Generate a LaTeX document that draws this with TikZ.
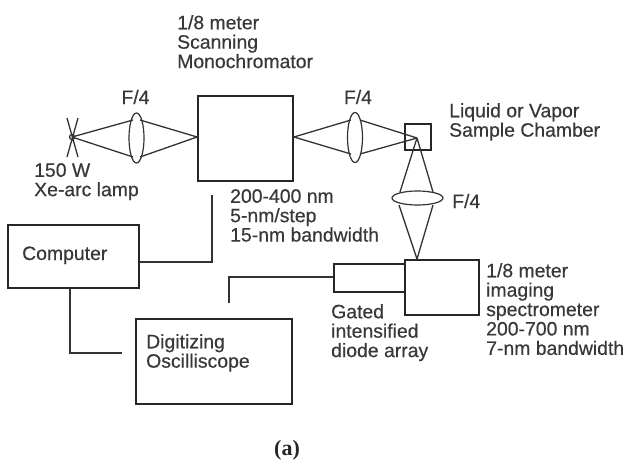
\documentclass[tikz,border=0pt]{standalone}
\usetikzlibrary{shapes.geometric}
\usepackage{fontspec}
\setmainfont{Liberation Sans}
\newfontfamily\labfont[FakeBold=0.35]{Liberation Sans}
\newfontfamily\serifbold{Liberation Serif}
\begin{document}
\begin{tikzpicture}[x=1pt,y=-1pt,
  box/.style={draw=black!85,line width=1.8pt,inner sep=0pt},
  ray/.style={draw=black!80,line width=1.3pt},
  wire/.style={draw=black!80,line width=1.3pt},
  lens/.style={ellipse,draw=black!80,line width=1.2pt,inner sep=0pt},
  lab/.style={text=black!78,font=\labfont\fontsize{19.4}{19.4}\selectfont,align=left,inner sep=0pt}]
\useasboundingbox (0,0) rectangle (629,464);
\fill[white] (0,0) rectangle (629,464);
% boxes
\node[box,minimum width=95pt,minimum height=85pt] (mono) at (245.5,138.5) {};
\node[box,minimum width=26pt,minimum height=26pt] (cell) at (418,137) {};
\node[box,minimum width=74pt,minimum height=55pt] (spec) at (442,287.5) {};
\node[box,minimum width=71pt,minimum height=28pt] (diode) at (369.5,278) {};
\node[box,minimum width=131pt,minimum height=63pt] (comp) at (73.5,256.5) {};
\node[box,minimum width=156pt,minimum height=85pt] (osc) at (214,361.5) {};
% lamp
\coordinate (lampc) at (72,137);
\draw[ray] (67,118) -- (78,157) (78,118) -- (67,157);
\draw[ray] (lampc) circle (2.5);
% lenses
\node[lens,minimum width=15pt,minimum height=50pt] (l1) at (136.5,138) {};
\node[lens,minimum width=15pt,minimum height=50pt] (l2) at (355,137.5) {};
\node[lens,minimum width=51pt,minimum height=14pt] (l3) at (417.5,198) {};
% ray points
\coordinate (focus) at (417,138);
\coordinate (specT) at (417,259);
\draw[ray] (lampc) -- (133,120) (lampc) -- (133,157);
\draw[ray] (mono.west |- lampc) -- (140,120) (mono.west |- lampc) -- (140,157);
\draw[ray] (mono.east |- lampc) -- (351,120) (mono.east |- lampc) -- (351,154);
\draw[ray] (focus) -- (360,120) (focus) -- (360,154);
\draw[ray] (focus) -- (400,192) (focus) -- (433,192);
\draw[ray] (specT) -- (399,205) (specT) -- (433,205);
% wires
\coordinate (w1) at (212,195);
\coordinate (w1b) at (212,262);
\coordinate (w2b) at (70,353);
\coordinate (w2c) at (122,353);
\coordinate (w3a) at (229,303);
\coordinate (w3b) at (229,277);
\draw[wire] (w1) -- (w1b) -- (comp.east |- w1b);
\draw[wire] (comp.south -| w2b) -- (w2b) -- (w2c);
\draw[wire] (w3a) -- (w3b) -- (diode.west |- w3b);
% labels
\node[lab,anchor=north west] (tm) at (177,15) {1/8 meter\\Scanning\\Monochromator};
\node[lab,anchor=base] (f1) at (135.5,104) {F/4};
\node[lab,anchor=base] (f2) at (358,104) {F/4};
\node[lab,anchor=base west] (f3) at (452,208) {F/4};
\node[lab,anchor=north west] (lamp) at (34,163) {150 W\\Xe-arc lamp};
\node[lab,anchor=north west] (liq) at (449,103) {Liquid or Vapor\\Sample Chamber};
\node[lab,anchor=north west] (rng) at (230,189) {200-400 nm\\5-nm/step\\15-nm bandwidth};
\node[lab,anchor=base west] (ct) at (22,260) {Computer};
\node[lab,anchor=north west] (dg) at (146,334) {Digitizing\\Oscilliscope};
\node[lab,anchor=north west] (gt) at (331,304) {Gated\\intensified\\diode array};
\node[lab,anchor=north west] (im) at (486,263) {1/8 meter\\imaging\\spectrometer\\200-700 nm\\7-nm bandwidth};
\node[text=black!85,font=\serifbold\fontsize{22}{24}\selectfont\bfseries,inner sep=0pt] (a) at (287,450) {(a)};
\end{tikzpicture}
\end{document}
